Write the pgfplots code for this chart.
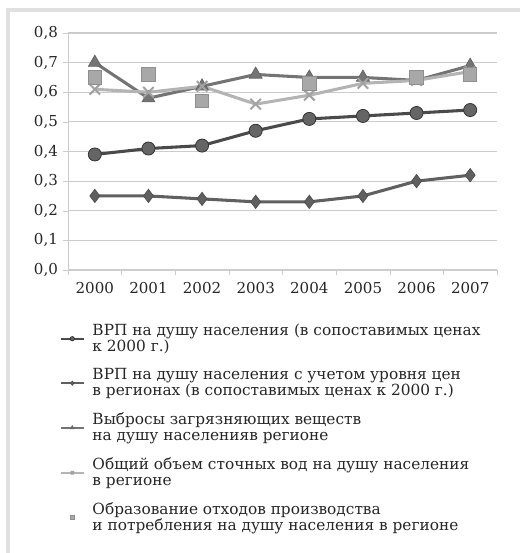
\documentclass[border=0pt]{standalone}
\usepackage{pgfplots}
\pgfplotsset{compat=1.18}
\usepackage{fontspec}
\setmainfont{DejaVu Serif}
\definecolor{cA}{HTML}{4A4A4A}
\definecolor{cB}{HTML}{606060}
\definecolor{cC}{HTML}{747474}
\definecolor{cD}{HTML}{B4B4B4}
\definecolor{cE}{HTML}{A8A8A8}
\definecolor{gridc}{HTML}{CCCCCC}
\begin{document}
\begin{tikzpicture}
\path (0pt,0pt) rectangle (390pt,414.75pt);
\fill[black!12] (4.5pt,0pt) rectangle (7.5pt,405.75pt);
\fill[black!12] (4.5pt,405.75pt) rectangle (390pt,408.75pt);
\begin{axis}[
  at={(51pt,212.25pt)}, anchor=south west,
  scale only axis, width=321.75pt, height=177.75pt,
  xmin=-0.5, xmax=7.5, ymin=0, ymax=0.8,
  axis x line=bottom, axis y line=left,
  axis line style={gridc, -},
  xtick={0,...,7},
  xticklabels={2000,2001,2002,2003,2004,2005,2006,2007},
  minor xtick={-0.5,0.5,...,7.5},
  ytick={0,0.1,...,0.8},
  ymajorgrids, major grid style={gridc, line width=0.8pt},
  tick align=outside,
  major x tick style={draw=none},
  minor tick style={gridc},
  major y tick style={gridc},
  major tick length=4pt, minor tick length=4pt,
  yticklabel style={/pgf/number format/.cd, fixed, fixed zerofill, precision=1, use comma, assume math mode=true},
  ticklabel style={font=\fontsize{11.3}{13}\selectfont, text=black!85},
  xticklabel style={yshift=-2pt},
  legend style={at={(-0.019,-0.215)}, anchor=north west, draw=none, fill=none,
    font=\fontsize{11.5}{12}\selectfont, text=black!85,
    cells={anchor=west, align=left}, row sep=7.3pt, column sep=4pt,
    inner sep=0pt},
  legend image post style={mark size=1.6pt, line width=1.2pt},
]
\addplot[cA, line width=2.3pt, mark=*, mark size=4.9pt, mark options={fill=cA!85, draw=cA!70!black, line width=0.6pt}]
  coordinates {(0,0.39)(1,0.41)(2,0.42)(3,0.47)(4,0.51)(5,0.52)(6,0.53)(7,0.54)};
\addlegendentry{ВРП на душу населения (в сопоставимых ценах\\к 2000 г.)}
\addplot[cB, line width=2.3pt, mark=diamond*, mark size=5pt, mark options={fill=cB, draw=cB!80!black, line width=0.5pt}]
  coordinates {(0,0.25)(1,0.25)(2,0.24)(3,0.23)(4,0.23)(5,0.25)(6,0.30)(7,0.32)};
\addlegendentry{ВРП на душу населения с учетом уровня цен\\в регионах (в сопоставимых ценах к 2000 г.)}
\addplot[cC, line width=2.3pt, mark=triangle*, mark size=5.6pt, mark options={fill=cC, draw=cC!85!black, line width=0.5pt}]
  coordinates {(0,0.70)(1,0.58)(2,0.62)(3,0.66)(4,0.65)(5,0.65)(6,0.64)(7,0.69)};
\addlegendentry{Выбросы загрязняющих веществ\\на душу населенияв регионе}
\addplot[cD, line width=2.3pt, mark=x, mark size=5.6pt, mark options={draw=cD!90!black, line width=1.5pt}]
  coordinates {(0,0.61)(1,0.60)(2,0.62)(3,0.56)(4,0.59)(5,0.63)(6,0.64)(7,0.67)};
\addlegendentry{Общий объем сточных вод на душу населения\\в регионе}
\addplot[only marks, mark=square*, mark size=5pt, mark options={fill=cE, draw=cE!85!black, line width=0.6pt}]
  coordinates {(0,0.65)(1,0.66)(2,0.57)(4,0.63)(6,0.65)(7,0.66)};
\addlegendentry{Образование отходов производства\\и потребления на душу населения в регионе}
\end{axis}
\end{tikzpicture}
\end{document}
